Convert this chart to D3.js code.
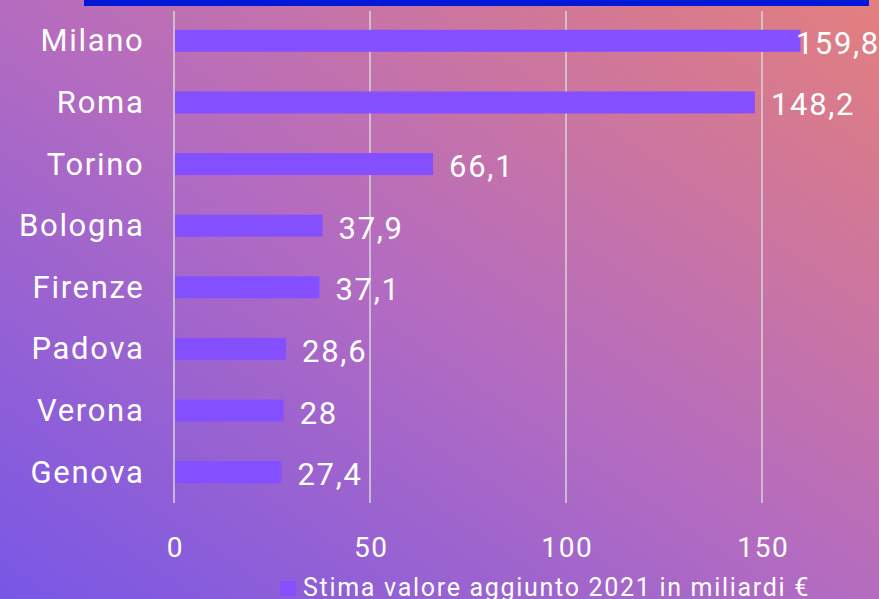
<!DOCTYPE html>
<html>
<head>
<meta charset="utf-8">
<script src="https://cdn.jsdelivr.net/npm/d3@7"></script>
<style>
  body { margin: 0; overflow: hidden; }
  svg { display: block; font-family: Roboto, "Noto Sans", sans-serif; letter-spacing: 1.7px; }
</style>
</head>
<body>
<div id="chart"></div>
<script>
// data
const cities = ["Milano", "Roma", "Torino", "Bologna", "Firenze", "Padova", "Verona", "Genova"];
const values = [159.8, 148.2, 66.1, 37.9, 37.1, 28.6, 28, 27.4];
const valueLabels = ["159,8", "148,2", "66,1", "37,9", "37,1", "28,6", "28", "27,4"];
const xTicks = [0, 50, 100, 150];
const seriesName = "Stima valore aggiunto 2021 in miliardi €";

const w = 879;
const h = 599;
const barColor = "#8450ff";

const svg = d3.select("#chart")
              .append("svg")
              .attr("width", w)
              .attr("height", h);

// background gradient
const defs = svg.append("defs");
const grad = defs.append("linearGradient")
                 .attr("id", "bg")
                 .attr("x1", 0).attr("y1", 1)
                 .attr("x2", 1).attr("y2", 0);
grad.append("stop").attr("offset", "0%").attr("stop-color", "#7857e6");
grad.append("stop").attr("offset", "50%").attr("stop-color", "#b56cbf");
grad.append("stop").attr("offset", "100%").attr("stop-color", "#e37f7e");

svg.append("rect")
   .attr("width", w)
   .attr("height", h)
   .attr("fill", "url(#bg)");

// top blue band
svg.append("rect")
   .attr("x", 84)
   .attr("y", 0)
   .attr("width", 785)
   .attr("height", 6)
   .attr("fill", "#0019d8");

// scales
const xScale = d3.scaleLinear()
                 .domain([0, 175])
                 .range([174, 860]);

const yScale = d3.scaleBand()
                 .domain(cities)
                 .range([10, 503])
                 .paddingInner(0.643)
                 .paddingOuter(0.3215);

// gridlines
svg.append("g")
   .selectAll("line")
   .data(xTicks)
   .enter()
   .append("line")
   .attr("x1", d => xScale(d))
   .attr("x2", d => xScale(d))
   .attr("y1", 11)
   .attr("y2", 503)
   .attr("stroke", "#d6d6d6")
   .attr("stroke-width", 1.5);

// x axis
const xAxis = d3.axisBottom(xScale).tickValues(xTicks).tickSize(0).tickPadding(0);
const gx = svg.append("g")
              .call(xAxis);
gx.select(".domain").remove();
gx.selectAll("text")
  .attr("y", 557)
  .attr("dy", 0)
  .attr("dx", "0.85px")
  .attr("fill", "#ffffff")
  .style("font-size", "28px")
  .style("font-family", "Roboto, sans-serif");

// y axis labels
const yAxis = d3.axisLeft(yScale).tickSize(0).tickPadding(0);
const gy = svg.append("g")
              .attr("transform", "translate(144.5,0)")
              .call(yAxis);
gy.select(".domain").remove();
gy.selectAll("text")
  .attr("x", 0)
  .attr("dy", "0.34em")
  .attr("fill", "#ffffff")
  .style("font-size", "31px")
  .style("font-family", "Roboto, sans-serif");

// bars
svg.selectAll(".bar")
   .data(values)
   .enter()
   .append("rect")
   .attr("class", "bar")
   .attr("x", xScale(0) + 1)
   .attr("y", (d, i) => yScale(cities[i]))
   .attr("width", d => xScale(d) - xScale(0) - 1)
   .attr("height", yScale.bandwidth())
   .attr("fill", barColor);

// value labels
svg.selectAll(".val")
   .data(values)
   .enter()
   .append("text")
   .attr("class", "val")
   .attr("y", (d, i) => yScale(cities[i]) + yScale.bandwidth() / 2 + 13)
   .attr("fill", "#ffffff")
   .style("font-size", "31px")
   .text((d, i) => valueLabels[i])
   .attr("x", function(d) {
      const tw = this.getComputedTextLength();
      return Math.min(xScale(d) + 16, w + 1 - tw);
   });

// legend
svg.append("rect")
   .attr("x", 280)
   .attr("y", 581)
   .attr("width", 16)
   .attr("height", 15)
   .attr("fill", barColor);

svg.append("text")
   .attr("x", 303)
   .attr("y", 596)
   .attr("fill", "#ffffff")
   .style("font-size", "25px")
   .text(seriesName);
</script>
</body>
</html>
